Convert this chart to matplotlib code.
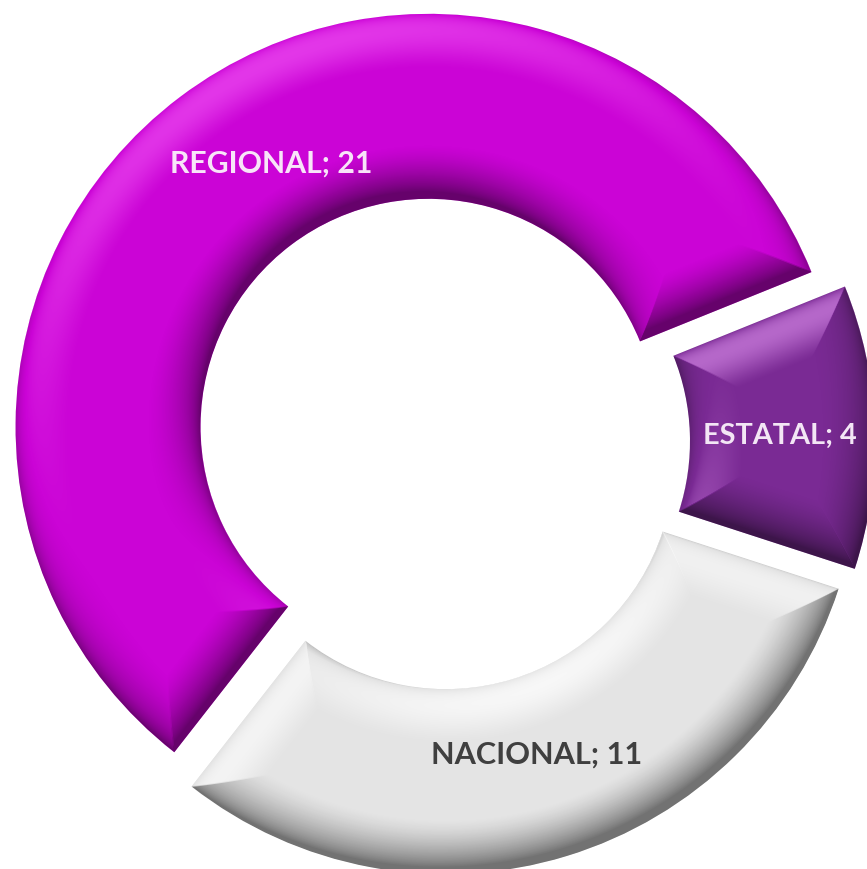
import numpy as np
import matplotlib
matplotlib.use("Agg")
import matplotlib.pyplot as plt

categories = ["REGIONAL", "NACIONAL", "ESTATAL"]
values = [21, 11, 4]
colors = ["#CB04D6", "#E4E4E4", "#7A2A94"]
highlights = [(1.0, 0.45, 1.0), (1.0, 1.0, 1.0), (0.92, 0.62, 0.98)]
light_gain = [1.3, 2.0, 1.5]
label_colors = ["#F8E4F8", "#3F3F3F", "#F3E6F5"]
label_sizes = [21.8, 22.1, 20.8]
label_xy = [(271, 164), (537, 755), (780, 436)]

W, H = 867, 869
CX, CY = 440, 442      # pixel centre of the ring
R, HOLE = 413, 228
EXPLODE = [19, 20, 22]
START = 22
BEVEL = 55

fig = plt.figure(figsize=(W / 100, H / 100), dpi=100)
ax = fig.add_axes([0, 0, 1, 1])
wedges, _ = ax.pie(values, colors=colors, radius=R, center=(CX, H - CY),
                   explode=EXPLODE, startangle=START,
                   wedgeprops=dict(width=R - HOLE, linewidth=0), frame=True)
ax.set_xlim(0, W)
ax.set_ylim(0, H)
ax.set_aspect("equal")
ax.axis("off")

# bevel shading: a height field derived from each wedge, lit from above
yy, xx = np.mgrid[0:H, 0:W] + 0.5
yy_up = H - yy
L = np.array([-0.30, 0.72, 0.62])
L = L / np.linalg.norm(L)
flat = L[2]
for w, hl, gain in zip(wedges, highlights, light_gain):
    cx, cy = w.center
    t1, t2 = w.theta1, w.theta2
    dx, dy = xx - cx, yy_up - cy
    rho = np.hypot(dx, dy)
    ang = (np.degrees(np.arctan2(dy, dx)) - t1) % 360
    span = t2 - t1
    a1 = np.radians(np.clip(ang, 0, 90))
    a2 = np.radians(np.clip(span - ang, 0, 90))
    d = np.minimum.reduce([R - rho, rho - HOLE, rho * np.sin(a1), rho * np.sin(a2)])
    d = np.clip(d, 0, None)
    s = np.clip(d / BEVEL, 0, 1)
    h = BEVEL * 0.42 * (1 - (1 - s) ** 2.4)
    gy, gx = np.gradient(h)
    gy = -gy  # image rows run downwards
    nz = 1 / np.sqrt(1 + gx ** 2 + gy ** 2)
    shade = (-gx * L[0] - gy * L[1] + L[2]) * nz - flat
    shade = shade * 1.25 - 0.42 * np.exp(-d / 7)
    rgba = np.zeros((H, W, 4))
    light = shade > 0
    rgba[..., :3] = light[..., None] * np.array(hl)
    rgba[..., 3] = np.where(light, np.clip(shade * gain, 0, 0.95),
                            np.clip(-shade * 0.55, 0, 0.5))
    im = ax.imshow(rgba, extent=(0, W, 0, H), origin="upper", zorder=2,
                   interpolation="bilinear", aspect="equal")
    im.set_clip_path(w)

ax.set_xlim(0, W)
ax.set_ylim(0, H)

for c, v, col, fs, (x, y) in zip(categories, values, label_colors, label_sizes, label_xy):
    ax.text(x, H - y, f"{c}; {v}", color=col, ha="center", va="center",
            fontsize=fs, family="Lato", fontweight="bold", zorder=3)

fig.savefig("out.png", dpi=100, facecolor="white")
